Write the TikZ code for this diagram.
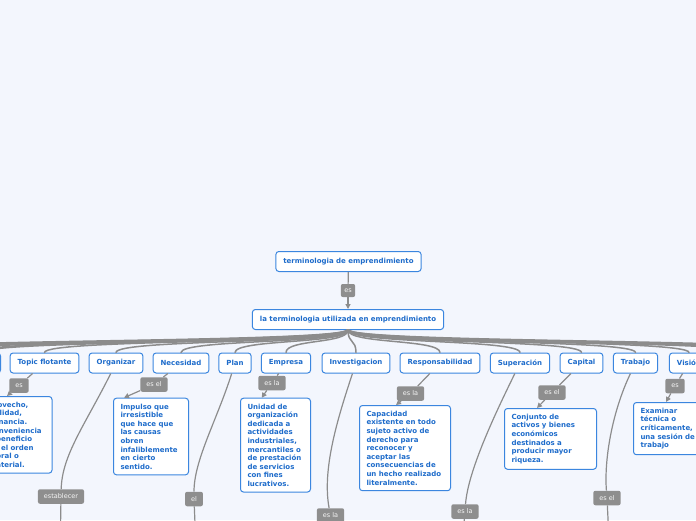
\documentclass[tikz,border=0pt]{standalone}
\usepackage{fontspec}
\setmainfont{DejaVu Sans}
\usetikzlibrary{arrows.meta}

\definecolor{bgcol}{HTML}{F3F6FD}
\definecolor{topicblue}{HTML}{3B86DF}
\definecolor{textblue}{HTML}{1E6CCB}
\definecolor{linegray}{HTML}{8C8C8C}
\definecolor{taggray}{HTML}{8E8E8E}

\tikzset{
	topic/.style={draw=topicblue, line width=1pt, fill=white, rounded corners=3pt,
		text=textblue, font=\fontsize{7}{8.6}\selectfont\bfseries,
		minimum height=20pt, inner xsep=7.5pt, inner ysep=0pt},
	note/.style={draw=topicblue, line width=1pt, fill=white, rounded corners=3pt,
		text=textblue, font=\fontsize{7}{8.6}\selectfont\bfseries,
		align=left, inner xsep=7pt, inner ysep=5.5pt, anchor=north west},
	tag/.style={fill=taggray, rounded corners=2pt, text=white!93!gray,
		font=\fontsize{6.5}{7}\selectfont, minimum height=14.5pt,
		inner xsep=6pt, inner ysep=0pt},
	branch/.style={draw=linegray, line width=1.5pt, line cap=round},
	farbranch/.style={branch, line width=2.6pt},
	link/.style={draw=linegray, line width=1.2pt},
	arrowed/.style={-{Triangle[width=5pt,length=5pt]}}
}

\begin{document}
\begin{tikzpicture}[x=1pt, y=-1pt]
	\fill[bgcol] (0,0) rectangle (696,520);
	\useasboundingbox (0,0) rectangle (696,520);
	
	\node[topic] (term) at (348.5,261.5) {terminologia de emprendimiento};
	\node[topic] (termuse) at (348,319.5) {la terminologia utilizada en emprendimiento};
	\node[tag, minimum height=13pt, inner xsep=3.5pt] (lroot) at (348,290.5) {es};
	
	\node[topic, minimum width=44pt, anchor=east] (lft) at (1,363) {};
	\node[topic] (flot) at (44.5,363) {Topic flotante};
	\node[topic] (org) at (116,363) {Organizar};
	\node[topic] (nec) at (181,363) {Necesidad};
	\node[topic] (plan) at (235,363) {Plan};
	\node[topic] (emp) at (286,363) {Empresa};
	\node[topic] (inv) at (356,363) {Investigacion};
	\node[topic] (resp) at (440,363) {Responsabilidad};
	\node[topic] (sup) at (520,363) {Superación};
	\node[topic] (cap) at (581.5,363) {Capital};
	\node[topic] (trab) at (635.5,363) {Trabajo};
	\node[topic] (vis) at (689,363) {Visión};
	
	\coordinate (farl1) at (-85,353);
	\coordinate (farl2) at (-150,353);
	\coordinate (farr1) at (755,353);
	\coordinate (farr2) at (820,353);
	
	\node[note, text width=56pt] (flotdef) at (-18.5,396) {Provecho,\\utilidad,\\ganancia.\\Conveniencia\\o beneficio\\en el orden\\moral o\\material.};
	\node[note, text width=61pt] (necdef) at (113,397.7) {Impulso que\\irresistible\\que hace que\\las causas\\obren\\infaliblemente\\en cierto\\sentido.};
	\node[note, text width=56pt] (empdef) at (240,397.7) {Unidad de\\organización\\dedicada a\\actividades\\industriales,\\mercantiles o\\de prestación\\de servicios\\con fines\\lucrativos.};
	\node[note, text width=77pt] (respdef) at (359,405) {Capacidad\\existente en todo\\sujeto activo de\\derecho para\\reconocer y\\aceptar las\\consecuencias de\\un hecho realizado\\literalmente.};
	\node[note, text width=78pt] (capdef) at (504,408) {Conjunto de\\activos y bienes\\económicos\\destinados a\\producir mayor\\riqueza.};
	\node[note, text width=66pt] (visdef) at (633,402) {Examinar\\técnica o\\críticamente,\\una sesión de\\trabajo};
	
	\node[tag] (lflot) at (19,385.5) {es};
	\node[tag] (lnec) at (154,384.5) {es el};
	\node[tag] (lorg) at (61,496.5) {establecer};
	\node[tag] (lplan) at (194,499) {el};
	\node[tag] (lemp) at (272,383) {es la};
	\node[tag] (linv) at (330.5,515.5) {es la};
	\node[tag] (lresp) at (410.5,393.5) {es la};
	\node[tag] (lsup) at (465,511.5) {es la};
	\node[tag] (lcap) at (552,392.5) {es el};
	\node[tag] (ltrab) at (607,498) {es el};
	\node[tag] (lvis) at (675,386) {es};
	
	\coordinate (orgend) at (60,560);
	\coordinate (planend) at (196.5,560);
	\coordinate (invend) at (331,560);
	\coordinate (supend) at (461,560);
	\coordinate (trabend) at (610,560);
	
	\draw[link] (term) -- (lroot);
	\draw[link, arrowed] (lroot) -- (termuse);
	
	\draw[farbranch] (termuse.south) .. controls (348,344) and (-150,339) .. (farl2);
	\draw[farbranch] (termuse.south) .. controls (348,344) and (-85,339) .. (farl1);
	\draw[farbranch] (termuse.south) .. controls (348,344) and (-21,339) .. ([xshift=-21pt]lft.north east);
	\draw[branch] (termuse.south) .. controls (348,344) and (44.5,339) .. (flot.north);
	\draw[branch] (termuse.south) .. controls (348,344) and (116,339) .. (org.north);
	\draw[branch] (termuse.south) .. controls (348,344) and (181,339) .. (nec.north);
	\draw[branch] (termuse.south) .. controls (348,344) and (235,339) .. (plan.north);
	\draw[branch] (termuse.south) .. controls (348,344) and (286,339) .. (emp.north);
	\draw[branch] (termuse.south) .. controls (348,344) and (356,339) .. (inv.north);
	\draw[branch] (termuse.south) .. controls (348,344) and (440,339) .. (resp.north);
	\draw[branch] (termuse.south) .. controls (348,344) and (520,339) .. (sup.north);
	\draw[branch] (termuse.south) .. controls (348,344) and (581.5,339) .. (cap.north);
	\draw[branch] (termuse.south) .. controls (348,344) and (635.5,339) .. (trab.north);
	\draw[branch] (termuse.south) .. controls (348,344) and (689,339) .. (vis.north);
	\draw[farbranch] (termuse.south) .. controls (348,344) and (755,339) .. (farr1);
	\draw[farbranch] (termuse.south) .. controls (348,344) and (820,339) .. (farr2);
	
	\draw[link] (flot) -- (lflot);
	\draw[link, arrowed] (lflot) -- ([xshift=25.5pt]flotdef.north west);
	\draw[link] (nec) -- (lnec);
	\draw[link, arrowed] (lnec) -- ([xshift=11pt]necdef.north west);
	\draw[link] (emp) -- (lemp);
	\draw[link, arrowed] (lemp) -- ([xshift=21.7pt]empdef.north west);
	\draw[link] (resp) -- (lresp);
	\draw[link, arrowed] (lresp) -- ([xshift=37pt]respdef.north west);
	\draw[link] (cap) -- (lcap);
	\draw[link, arrowed] (lcap) -- ([xshift=33pt]capdef.north west);
	\draw[link] (vis) -- (lvis);
	\draw[link, arrowed] (lvis) -- ([xshift=33pt]visdef.north west);
	
	\draw[link] (org) .. controls (85,425) and (62,455) .. (lorg);
	\draw[link] (lorg) -- (orgend);
	\draw[link] (plan) .. controls (217,420) and (194,460) .. (lplan);
	\draw[link] (lplan) -- (planend);
	\draw[link] (inv) .. controls (337,420) and (322,470) .. (linv);
	\draw[link] (linv) -- (invend);
	\draw[link] (sup) .. controls (497,410) and (468,470) .. (lsup);
	\draw[link] (lsup) -- (supend);
	\draw[link] (trab) .. controls (612,412) and (604,460) .. (ltrab);
	\draw[link] (ltrab) -- (trabend);
\end{tikzpicture}
\end{document}
